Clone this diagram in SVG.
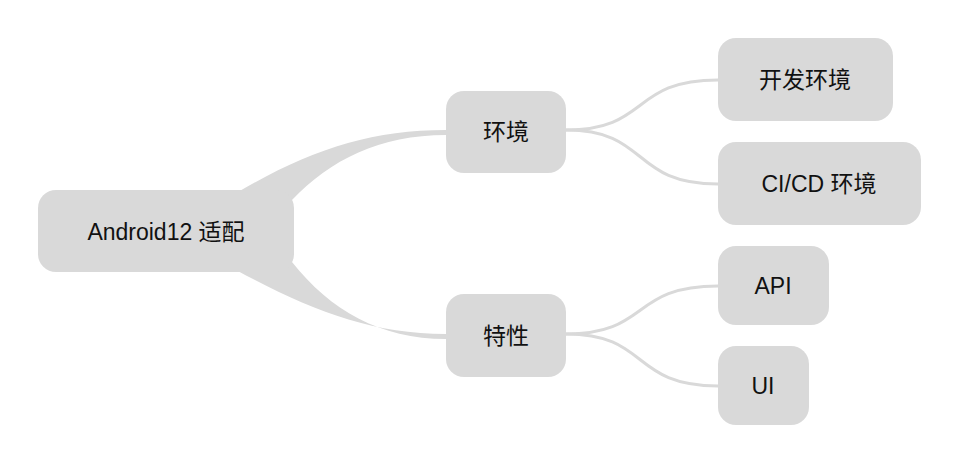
<svg xmlns="http://www.w3.org/2000/svg" width="960" height="464" viewBox="0 0 960 464">
<style>
.n{fill:#d9d9d9}
.t{font-family:"Liberation Sans","Noto Sans CJK SC",sans-serif;font-size:23px;fill:#111;text-anchor:middle;dominant-baseline:central}
.l{fill:none;stroke:#d9d9d9;stroke-width:3}
.b{fill:#d9d9d9}
</style>
<rect width="960" height="464" fill="#fff"/>
<g id="connectors">
<path class="b" d="M238,192 C310,150 370,130 446,130 L446,135 C380,135 330,160 292,200 Z"/>
<path class="b" d="M236,270 C310,310 370,334 446,334 L446,339 C380,339 330,310 292,262 Z"/>
<path class="l" d="M566,130 C650,130 630,80 718,80"/>
<path class="l" d="M566,130 C650,130 630,184 718,184"/>
<path class="l" d="M566,334 C650,334 630,286 718,286"/>
<path class="l" d="M566,334 C650,334 630,386 718,386"/>
</g>
<g id="root"><rect class="n" x="38" y="190" width="256" height="82" rx="18"/><text class="t" x="166" y="232">Android12 适配</text></g>
<g id="env"><rect class="n" x="446" y="91" width="120" height="82" rx="18"/><text class="t" x="506" y="132">环境</text></g>
<g id="feat"><rect class="n" x="446" y="294" width="120" height="83" rx="18"/><text class="t" x="506" y="336">特性</text></g>
<g id="dev"><rect class="n" x="718" y="38" width="175" height="83" rx="18"/><text class="t" x="805" y="80">开发环境</text></g>
<g id="cicd"><rect class="n" x="718" y="142" width="203" height="83" rx="18"/><text class="t" x="819" y="184">CI/CD 环境</text></g>
<g id="api"><rect class="n" x="718" y="246" width="111" height="79" rx="18"/><text class="t" x="773" y="286">API</text></g>
<g id="ui"><rect class="n" x="718" y="346" width="91" height="79" rx="18"/><text class="t" x="763" y="386">UI</text></g>
</svg>
